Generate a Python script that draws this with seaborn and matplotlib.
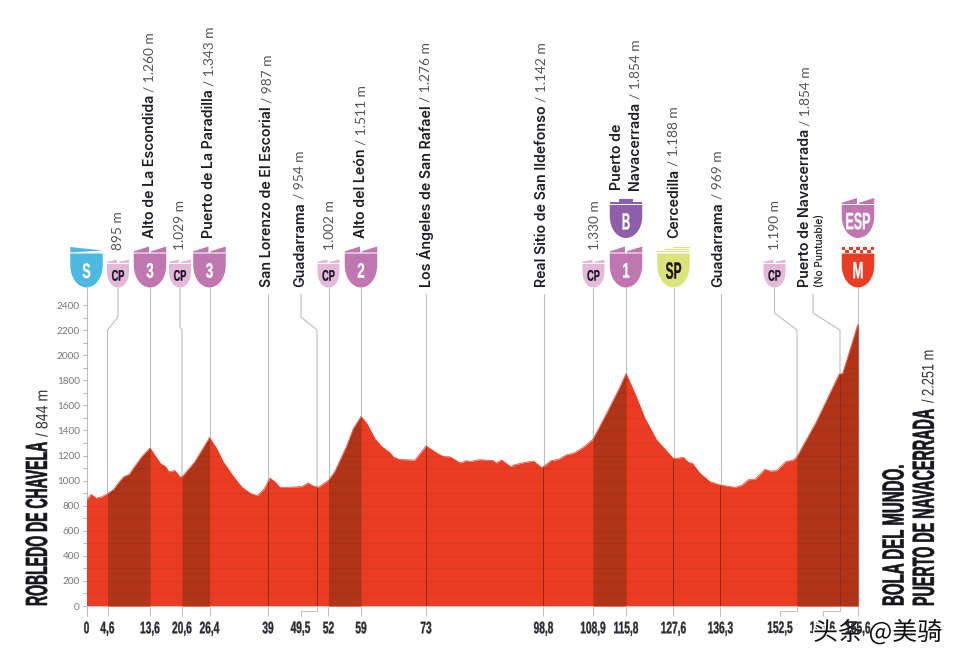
### Dependencies ---------------------------------------------------------------
import numpy as np
import matplotlib
matplotlib.use("Agg")
import matplotlib.pyplot as plt
import matplotlib.patheffects as pe
from matplotlib.patches import PathPatch, Polygon, Rectangle
from matplotlib.path import Path
from matplotlib.ticker import NullLocator
from matplotlib.transforms import Affine2D
import seaborn as sns

############ DATA ##############
km = [0, 1.0, 2.1, 3.3, 4.6, 5.9, 7.0, 8.0, 9.2, 10.4, 11.85, 13.6, 14.7, 15.9, 16.9, 17.75,
      19.05, 20.15, 20.6, 23.3, 26.4, 27.95, 29.35, 31.5, 33.3, 35.1, 36.7, 38.1, 39.4, 40.5,
      41.55, 43.7, 46.2, 47.6, 48.5, 49.8, 52, 53.4, 55.9, 57.35, 59, 60.25, 62.05, 63.5,
      65.3, 66, 67.3, 70.6, 73, 75.7, 76.8, 78.3, 80.5, 81.9, 82.6, 84.8, 87.75, 88.35, 89.6,
      91.6, 92.5, 94.4, 96.6, 98.3, 98.8, 100.3, 101.85, 103.55, 104.9, 106.9, 108.9, 111.75,
      114.5, 115.8, 118.0, 120.5, 123.4, 127.6, 129.45, 130.35, 131.1, 132.5, 134.35, 136.2,
      139.4, 140.8, 142.2, 143.6, 145.7, 146.8, 148.2, 150.1, 151.7, 152.5, 156.6, 161.4,
      162.2, 165.6]
elev = [844, 890, 860, 870, 895, 930, 985, 1030, 1050, 1115, 1190, 1260, 1200, 1135, 1115, 1070,
        1080, 1030, 1029, 1150, 1343, 1255, 1150, 1035, 950, 900, 880, 930, 1020, 990,
        945, 947, 952, 980, 960, 947, 1002, 1075, 1275, 1415, 1511, 1456, 1330, 1270,
        1220, 1187, 1168, 1163, 1276, 1213, 1192, 1189, 1141, 1159, 1151, 1167, 1159, 1140, 1164,
        1111, 1127, 1143, 1156, 1106, 1112, 1159, 1169, 1207, 1217, 1265, 1330, 1536,
        1744, 1854, 1696, 1496, 1324, 1175, 1185, 1146, 1138, 1058, 991, 965,
        946, 962, 1007, 1010, 1090, 1076, 1079, 1151, 1164, 1191, 1470, 1847,
        1855, 2251]

tick_km = [0, 4.6, 13.6, 20.6, 26.4, 39, 49.5, 52, 59, 73, 98.8, 108.9, 115.8, 127.6, 136.3,
           152.5, 161.6, 165.6]
tick_labels = ["0", "4,6", "13,6", "20,6", "26,4", "39", "49,5", "52", "59", "73", "98,8",
               "108,9", "115,8", "127,6", "136,3", "152,5", "161,6", "165,6"]
climbs = [(4.6, 13.6), (20.6, 26.4), (52, 59), (108.9, 115.8), (152.5, 165.6)]
town_marks = [39, 49.5, 73, 98.8, 127.6, 136.3, 161.6]

############ LAYOUT ##############
W, H = 960, 664
tick_px = [86.5, 107.5, 150, 182, 209.5, 268, 317, 328.5, 361, 426, 543.5, 593, 626, 673.5,
           720.5, 797, 840, 858]
RED, DARK = "#E93C23", "#B03417"
GREY = "#BDBDC2"
COND = ["Liberation Sans", "DejaVu Sans"]
NAME_FONT = ["Inter", "DejaVu Sans"]
ALT_FONT = ["Lato", "DejaVu Sans"]


def to_px(v):
    return np.interp(v, tick_km, tick_px)


def from_px(v):
    return np.interp(v, tick_px, tick_km)


class Stretch(pe.AbstractPathEffect):
    # no condensed font here, so small text is pulled taller across its baseline
    def __init__(self, sy, thicken=0.0):
        super().__init__()
        self.sy, self.thicken = sy, thicken

    def draw_path(self, renderer, gc, tpath, affine, rgbFace=None):
        # text paths are at size 100, 36 is the middle of the capitals
        stretch = Affine2D().translate(0, -36).scale(1, self.sy).translate(0, 36)
        gc0 = renderer.new_gc()
        gc0.copy_properties(gc)
        gc0.set_linewidth(self.thicken)
        renderer.draw_path(gc0, tpath, stretch + affine, rgbFace)
        gc0.restore()


sns.set_style("white")
fig = plt.figure(figsize=(W / 100, H / 100), dpi=100, facecolor="white")
deco = fig.add_axes([0, 0, 1, 1], zorder=0)
deco.set_xlim(0, W)
deco.set_ylim(H, 0)
deco.axis("off")

ax = fig.add_axes([86.5 / W, (H - 606) / H, (858 - 86.5) / W, 301 / H], zorder=1)
ax.patch.set_alpha(0)
ax.set_xscale("function", functions=(to_px, from_px))

############ PROFILE ##############
km_arr, elev_arr = np.array(km), np.array(elev)
sns.lineplot(x=km, y=elev, ax=ax, color=RED, lw=0.5, errorbar=None, zorder=2)
fill = ax.fill_between(km, 0, elev, color=RED, lw=0, zorder=2)
for a, b in climbs:
    ax.fill_between(km, 0, elev, where=(km_arr >= a) & (km_arr <= b), color=DARK, lw=0, zorder=3)

# faint height lines, only inside the mountain
grid = ax.hlines(np.arange(100, 2400, 100), 0, 165.6, color="black", alpha=0.06, lw=0.8, zorder=4)
grid.set_clip_path(fill.get_paths()[0], ax.transData)
ax.vlines(town_marks, 0, np.interp(town_marks, km, elev), color="#8E2C16", lw=0.7, zorder=5)

ax.set_xlim(0, 165.6)
ax.set_ylim(0, 2400)
ax.set_yticks(np.arange(0, 2401, 200))
ax.set_yticks(np.arange(100, 2400, 200), minor=True)
ax.tick_params(axis="y", which="both", length=3.2, width=0.6, color="#AAAAAA", pad=1.5,
               left=True, labelsize=7.2, labelcolor="#777777")
for lab in ax.get_yticklabels():
    lab.set_family(ALT_FONT)
for side in ["top", "right", "left"]:
    ax.spines[side].set_visible(False)
ax.spines["bottom"].set_color("#F2C4B8")
ax.spines["bottom"].set_linewidth(0.6)

# km axis, three of the labels sit on a jog so they are drawn below
NUM_SIZE = 7.3
num_fx = [Stretch(12 / NUM_SIZE, 0.25)]
jogged = {49.5: 300.5, 152.5: 780, 161.6: 822.5}
plain = [(k, s) for k, s in zip(tick_km, tick_labels) if k not in jogged]
ax.set_xticks([k for k, s in plain])
ax.set_xticklabels([s for k, s in plain])
ax.xaxis.set_minor_locator(NullLocator())
ax.tick_params(axis="x", length=7.2, width=0.7, color=GREY, pad=5, bottom=True,
               labelsize=NUM_SIZE, labelcolor="#2C2C30")
for lab in ax.get_xticklabels():
    lab.set_family(COND)
    lab.set_weight("bold")
    lab.set_path_effects(num_fx)
for k, x in jogged.items():
    deco.plot([to_px(k), to_px(k), x, x], [606, 611, 611, 616], color=GREY, lw=0.7)
    deco.text(x, 630.6, tick_labels[tick_km.index(k)], ha="center", va="baseline", family=COND,
              weight="bold", fontsize=NUM_SIZE, color="#2C2C30", path_effects=num_fx)

############ LEADER LINES ##############
# km, x at the top, y at the top, y where the line bends
leaders = [(0, 86.5, 288, None), (4.6, 118, 288, 317), (13.6, 150, 288, None), (20.6, 180, 288, 327),
           (26.4, 209.5, 288, None), (39, 268, 294, None), (49.5, 301, 294, 317), (52, 328.5, 288, None),
           (59, 361, 288, None), (73, 426, 294, None), (98.8, 543.5, 294, None), (108.9, 593.5, 288, None),
           (115.8, 626, 288, None), (127.6, 673.5, 288, None), (136.3, 720.5, 294, None),
           (152.5, 774.5, 288, 313), (161.6, 813, 294, 313), (165.6, 858, 288, None)]
for k, x0, y0, bend in leaders:
    x1 = to_px(k)
    if bend is None:
        deco.plot([x1, x1], [y0, 616 if k == 0 else 606], color=GREY, lw=0.8)
    else:
        deco.plot([x0, x0, x1, x1], [y0, bend, 330, 606], color=GREY, lw=0.8)


############ SHIELDS ##############
def shield_body(cx, top, bottom, w, color):
    l, r = cx - w / 2, cx + w / 2
    h = bottom - top
    y1 = top + h * 0.33
    verts = [(l, top), (r, top), (r, y1), (r, y1 + h * 0.42), (cx + w * 0.25, bottom), (cx, bottom),
             (cx - w * 0.25, bottom), (l, y1 + h * 0.42), (l, y1), (l, top)]
    codes = [Path.MOVETO, Path.LINETO, Path.LINETO, Path.CURVE4, Path.CURVE4, Path.CURVE4,
             Path.CURVE4, Path.CURVE4, Path.CURVE4, Path.CLOSEPOLY]
    deco.add_patch(PathPatch(Path(verts, codes), fc=color, ec="none", zorder=3))


def fins(cx, top, w, color, rise):
    l, r = cx - w / 2, cx + w / 2
    deco.add_patch(Polygon([(l, top - 1), (l, top - 2.2), (cx - 1, top - rise), (cx - 1, top - 1)],
                           fc=color, ec="none", zorder=3))
    deco.add_patch(Polygon([(cx + 1, top - 1), (cx + 1, top - 2.2), (r, top - rise), (r, top - 1)],
                           fc=color, ec="none", zorder=3))


def shield_text(cx, y, s, color, size, cap):
    deco.text(cx, y, s, ha="center", va="center_baseline", family=COND, weight="bold", fontsize=size,
              color=color, path_effects=[Stretch(cap / size, 0.2)], zorder=4)


MAUVE, LILAC, BLUE, LIME = "#C077B0", "#E3B9DA", "#4DB9E3", "#DDE37C"
# the small mountain passes
for cx in [118, 180, 328.5, 593.5, 774.5]:
    shield_body(cx, 264, 287.5, 22, LILAC)
    fins(cx, 264, 22, LILAC, 4.5)
    shield_text(cx, 275, "CP", "#1A1420", 6.6, 11)
# the categories
for cx, s in [(150, "3"), (209.5, "3"), (361, "2"), (626, "1")]:
    shield_body(cx, 253.5, 287.5, 32.5, MAUVE)
    fins(cx, 253.5, 32.5, MAUVE, 7)
    shield_text(cx, 270.5, s, "white", 9.7, 15)
# start
shield_body(86.5, 253.5, 287.5, 32.5, BLUE)
deco.add_patch(Polygon([(70.3, 247), (102.7, 250.5), (70.3, 252.5)], fc=BLUE, ec="none", zorder=3))
shield_text(86.5, 270.5, "S", "white", 9, 15)
# sprint
shield_body(673.5, 253.5, 287.5, 32.5, LIME)
for i, yy in enumerate([247, 249, 251]):
    inset = (2 - i) * 8
    deco.add_patch(Rectangle((657.3 + inset, yy), 32.5 - inset, 1.3, fc=LIME, ec="none", zorder=3))
shield_text(673.5, 270, "SP", "#1A1420", 8.6, 17)
# bonus
shield_body(626, 205, 238, 32.5, "#8E5EA8")
deco.add_patch(Rectangle((609.8, 201.5), 32.5, 2.5, fc="#8E5EA8", ec="none", zorder=3))
deco.add_patch(Rectangle((619, 199), 14, 3, fc="#8E5EA8", ec="none", zorder=3))
shield_text(626, 220.7, "B", "white", 8.3, 17)
# special and finish
shield_body(858, 205, 238, 32.5, MAUVE)
fins(858, 205, 32.5, MAUVE, 7)
shield_text(858, 220.7, "ESP", "white", 9, 17)
shield_body(858, 253.5, 287.5, 32.5, RED)
for col in range(9):
    for row in range(2):
        if (col + row) % 2 == 0:
            deco.add_patch(Rectangle((841.8 + col * 3.6, 246.5 + row * 3), 3.6, 3, fc=RED, ec="none", zorder=3))
shield_text(858, 270, "M", "white", 9.5, 17)

############ TEXT ##############
renderer = fig.canvas.get_renderer()


def climb_label(x, bottom, name, alt=None, size=10.2):
    start = bottom
    if name:
        t = deco.text(x, start, name, rotation=90, ha="center", va="bottom", family=NAME_FONT,
                      weight="semibold", fontsize=size, color="#1D1D22")
        box = t.get_window_extent(renderer)
        start = H - box.y1 - 3
    if alt:
        text = "/ " + alt if name else alt
        deco.text(x, start, text, rotation=90, ha="center", va="bottom", family=ALT_FONT,
                  fontsize=9.9, color="#55555B")


climb_label(118, 250, "", "895 m")
climb_label(180, 250, "", "1.029 m")
climb_label(330, 250, "", "1.002 m")
climb_label(595, 250, "", "1.330 m")
climb_label(775, 250, "", "1.190 m")
climb_label(150, 238, "Alto de La Escondida", "1.260 m")
climb_label(209, 238, "Puerto de La Paradilla", "1.343 m")
climb_label(267, 287, "San Lorenzo de El Escorial", "987 m")
climb_label(300, 287, "Guadarrama", "954 m")
climb_label(361, 238, "Alto del León", "1.511 m")
climb_label(426, 287, "Los Ángeles de San Rafael", "1.276 m")
climb_label(542, 287, "Real Sitio de San Ildefonso", "1.142 m")
climb_label(617, 190, "Puerto de")
climb_label(635, 190, "Navacerrada", "1.854 m")
climb_label(674, 238, "Cercedilla", "1.188 m")
climb_label(718, 287, "Guadarrama", "969 m")
climb_label(805, 287, "Puerto de Navacerrada", "1.854 m")
deco.text(820, 287, "(No Puntuable)", rotation=90, ha="center", va="bottom", family=NAME_FONT,
          weight="medium", fontsize=7.3, color="#1D1D22")


def town(x, bottom, s, size, cap=22, weight="bold", color="#17171B", thicken=0.4):
    deco.text(x, bottom, s, rotation=90, ha="center", va="bottom", family=COND, weight=weight,
              fontsize=size, color=color, path_effects=[Stretch(cap / size, thicken)])


town(37, 606, "ROBLEDO DE CHAVELA", 10.1)
town(42.5, 437, "/ 844 m", 10.2, cap=12, weight="normal", color="#333338", thicken=0)
town(894, 606, "BOLA DEL MUNDO.", 10.85)
town(924, 606, "PUERTO DE NAVACERRADA", 10.3)
town(929, 403, "/ 2.251 m", 9.2, cap=12, weight="normal", color="#333338", thicken=0)

# watermark of the site the picture comes from
deco.text(813, 640, "头条 @美骑", family=["Noto Sans CJK SC", "DejaVu Sans"], fontsize=18, color="#111111",
          zorder=6, path_effects=[pe.withStroke(linewidth=2.2, foreground="white")])

fig.savefig("out.png", dpi=100)
